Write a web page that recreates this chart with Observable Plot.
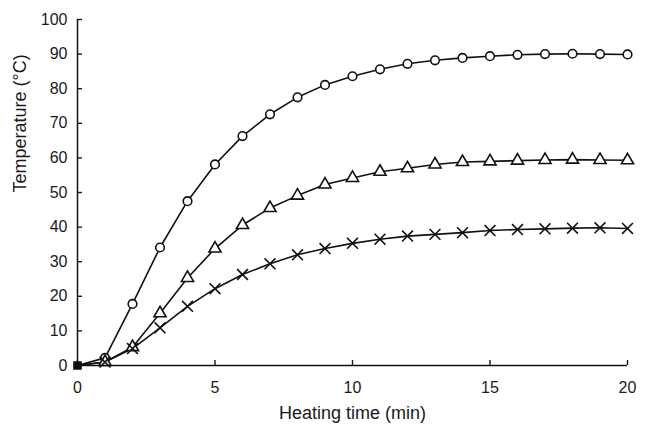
<!DOCTYPE html>
<html>
<head>
<meta charset="utf-8">
<script src="https://cdn.jsdelivr.net/npm/d3@7"></script>
<script src="https://cdn.jsdelivr.net/npm/@observablehq/plot@0.6"></script>
<style>
  body { margin: 0; background: #fff; }
  #chart svg { display: block; }
</style>
</head>
<body>
<div id="chart"></div>
<script>
const time = [0,1,2,3,4,5,6,7,8,9,10,11,12,13,14,15,16,17,18,19,20];
const circleSeries = [0,2.2,17.8,34.1,47.5,58.1,66.3,72.6,77.5,81.1,83.6,85.6,87.2,88.2,88.9,89.4,89.8,90.0,90.1,90.0,89.9];
const triangleSeries = [0,1.0,5.3,15.1,25.3,33.8,40.6,45.5,49.1,52.3,54.2,56.0,57.0,58.1,58.8,59.0,59.2,59.4,59.5,59.4,59.3];
const crossSeries = [0,1.0,4.9,10.9,17.1,22.2,26.3,29.4,32.0,33.8,35.3,36.5,37.4,37.9,38.4,39.0,39.3,39.5,39.7,39.8,39.6];
const xTicks = [0,5,10,15,20];
const yTicks = [0,10,20,30,40,50,60,70,80,90,100];
const xLabel = "Heating time (min)";
const yLabel = "Temperature (°C)";

const mk = (vals, name) => time.map((t, i) => ({t, v: vals[i], s: name}));
const circ = mk(circleSeries, "circle");
const tri = mk(triangleSeries, "triangle");
const crs = mk(crossSeries, "times");
const rest = arr => arr.slice(1);
const origin = [circ[0]];

const font = "'Liberation Sans', Arial, sans-serif";

const chart = Plot.plot({
  width: 648,
  height: 425,
  marginLeft: 77,
  marginRight: 21,
  marginTop: 19,
  marginBottom: 60,
  style: {fontFamily: font, fontSize: "16px", color: "#1a1a1a", background: "#fff"},
  x: {domain: [0, 20], ticks: xTicks},
  y: {domain: [0, 100], ticks: yTicks},
  marks: [
    Plot.axisX({ticks: xTicks, tickSize: 0, tickPadding: 16, fontSize: 16, label: null}),
    Plot.axisX({ticks: xTicks, tickSize: 5, dy: -5, text: null, label: null, strokeWidth: 1.4}),
    Plot.axisY({ticks: yTicks, tickSize: 0, tickPadding: 10, fontSize: 16, label: null}),
    Plot.axisY({ticks: yTicks, tickSize: 5, dx: 5, text: null, label: null, strokeWidth: 1.4}),
    Plot.ruleY([0], {stroke: "#111", strokeWidth: 1.5}),
    Plot.ruleX([0], {stroke: "#111", strokeWidth: 1.5}),
    Plot.line(circ, {x: "t", y: "v", stroke: "#111", strokeWidth: 1.6}),
    Plot.line(tri, {x: "t", y: "v", stroke: "#111", strokeWidth: 1.6}),
    Plot.line(crs, {x: "t", y: "v", stroke: "#111", strokeWidth: 1.6}),
    Plot.dot(rest(circ), {x: "t", y: "v", symbol: "circle", r: 4.3, stroke: "#111", strokeWidth: 1.6, fill: "#fff"}),
    Plot.dot(rest(tri), {x: "t", y: "v", symbol: "triangle", r: 4.5, stroke: "#111", strokeWidth: 1.6, fill: "#fff"}),
    Plot.dot(rest(crs), {x: "t", y: "v", symbol: "times", r: 5, stroke: "#111", strokeWidth: 1.6}),
    Plot.dot(origin, {x: "t", y: "v", symbol: "square", r: 4, fill: "#111", stroke: "#111"}),
    Plot.text([xLabel], {frameAnchor: "bottom", dy: 53, text: d => d, fontSize: 18, fill: "#1a1a1a"}),
    Plot.text([yLabel], {frameAnchor: "left", dx: -57, rotate: -90, text: d => d, fontSize: 18, fill: "#1a1a1a"})
  ]
});
document.getElementById("chart").appendChild(chart);
</script>
</body>
</html>
